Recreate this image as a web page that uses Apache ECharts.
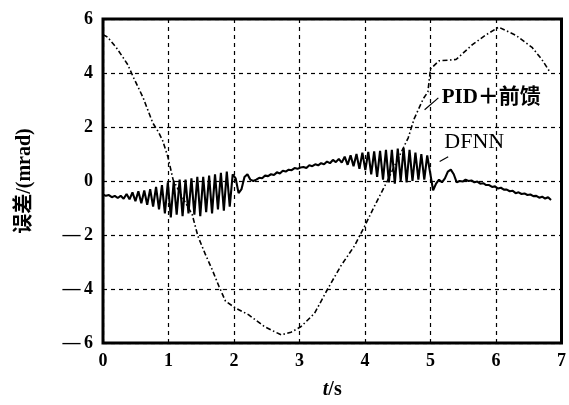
<!DOCTYPE html>
<html><head><meta charset="utf-8">
<script src="https://cdn.jsdelivr.net/npm/echarts@6/dist/echarts.min.js"></script>
<style>html,body{margin:0;padding:0;background:#fff}#c{width:569px;height:405px}</style>
</head><body><div id="c"></div>
<script>
// ---- data ----
const xTicks = [0, 1, 2, 3, 4, 5, 6, 7];
const yTicks = [-6, -4, -2, 0, 2, 4, 6];
const seriesNames = ['PID＋前馈', 'DFNN'];
// DFNN error, sampled every dfnnStep seconds starting at dfnnStart
const dfnnStart = 0, dfnnStep = 0.045;
const dfnnValues = [
 -0.50,-0.55,-0.52,-0.60,-0.55,-0.63,-0.55,-0.66,-0.48,-0.68,
 -0.42,-0.75,-0.38,-0.82,-0.35,-0.88,-0.30,-0.95,-0.22,-1.05,
 -0.15,-1.20,-0.05,-1.35, 0.00,-1.25, 0.05,-1.30, 0.05,-1.20,
  0.10,-1.25, 0.15,-1.30, 0.15,-1.15, 0.20,-1.20, 0.25,-1.05,
  0.30,-1.10, 0.35,-0.95, 0.25, 0.10,-0.45,-0.30, 0.15, 0.25,
  0.05, 0.00, 0.05, 0.12, 0.10, 0.20, 0.18, 0.25, 0.22, 0.32,
  0.28, 0.38, 0.35, 0.42, 0.40, 0.48, 0.45, 0.50, 0.52, 0.48,
  0.58, 0.55, 0.62, 0.58, 0.66, 0.62, 0.72, 0.66, 0.78, 0.70,
  0.82, 0.68, 0.90, 0.60, 0.95, 0.55, 1.00, 0.45, 1.05, 0.40,
  1.08, 0.25, 1.10, 0.15, 1.12, 0.05, 1.15,-0.05, 1.15,-0.10,
  1.20, 0.00, 1.22,-0.05, 1.15, 0.00, 1.05, 0.05, 1.00, 0.05,
  0.95, 0.30,-0.35,-0.10, 0.05,-0.05, 0.10, 0.35, 0.42, 0.25,
 -0.05, 0.00,-0.02, 0.05, 0.00, 0.02,-0.05,-0.02,-0.10,-0.08,
 -0.15,-0.15,-0.22,-0.20,-0.28,-0.25,-0.32,-0.32,-0.38,-0.36,
 -0.45,-0.42,-0.48,-0.46,-0.52,-0.50,-0.56,-0.55,-0.62,-0.58,
 -0.65,-0.60,-0.70
];
// PID + feedforward error
const pidTimes = [0,0.07,0.2,0.31,0.38,0.46,0.61,0.76,0.85,0.91,0.99,1.07,1.2,1.36,1.45,1.56,1.67,1.77,1.87,2.02,2.22,2.47,2.72,2.87,3.02,3.23,3.43,3.63,3.84,3.99,4.14,4.34,4.5,4.66,4.75,4.89,4.96,5.0,5.13,5.39,5.64,5.84,6.04,6.3,6.55,6.7,6.82];
const pidValues = [5.42,5.33,4.95,4.56,4.3,3.86,3.1,2.15,1.8,1.5,0.9,0.05,-0.55,-1.23,-2.05,-2.7,-3.3,-3.9,-4.45,-4.7,-4.95,-5.4,-5.7,-5.6,-5.4,-4.9,-4.0,-3.15,-2.4,-1.7,-0.95,0.0,0.8,1.6,2.3,3.05,3.3,4.15,4.45,4.5,5.05,5.4,5.7,5.4,4.95,4.5,4.05];

// ---- build ----
const dfnnData = dfnnValues.map((v, i) => [dfnnStart + i * dfnnStep, v]);
const pidData = pidTimes.map((t, i) => [t, pidValues[i]]);

const chart = echarts.init(document.getElementById('c'), null, {renderer: 'canvas'});
const serif = '"Liberation Serif","DejaVu Serif","Noto Sans CJK SC",serif';
const gridLine = {show: true, lineStyle: {color: '#000', width: 1.2, type: [4, 4]}};

chart.setOption({
  animation: false,
  backgroundColor: '#fff',
  grid: {left: 103, right: 2, top: 19, bottom: 61, show: true, borderColor: '#000', borderWidth: 3},
  xAxis: {
    type: 'value', min: xTicks[0], max: xTicks[xTicks.length - 1], interval: 1,
    axisLine: {show: false}, axisTick: {show: false},
    splitLine: gridLine,
    axisLabel: {color: '#000', fontFamily: serif, fontSize: 18, fontWeight: 'bold', margin: 9},
    name: '{i|t}{n|/s}', nameLocation: 'middle', nameGap: 37,
    nameTextStyle: {rich: {
      i: {fontFamily: serif, fontStyle: 'italic', fontWeight: 'bold', fontSize: 20, color: '#000'},
      n: {fontFamily: serif, fontWeight: 'bold', fontSize: 20, color: '#000'}
    }}
  },
  yAxis: {
    type: 'value', min: yTicks[0], max: yTicks[yTicks.length - 1], interval: 2,
    axisLine: {show: false}, axisTick: {show: false},
    splitLine: gridLine,
    axisLabel: {color: '#000', fontFamily: serif, fontSize: 18, fontWeight: 'bold', margin: 10,
      formatter: v => v < 0 ? '—\u2009' + (-v) : String(v)},
    name: '误差/(mrad)', nameLocation: 'middle', nameRotate: 90, nameGap: 68,
    nameTextStyle: {fontFamily: serif, fontWeight: 'bold', fontSize: 20, color: '#000'}
  },
  series: [
    {name: seriesNames[0], type: 'line', data: pidData, showSymbol: false, smooth: false,
     lineStyle: {color: '#000', width: 1.6, type: [5, 2.5, 1.5, 2.5]}},
    {name: seriesNames[1], type: 'line', data: dfnnData, showSymbol: false, smooth: false,
     lineStyle: {color: '#000', width: 2.1}}
  ]
});

function px(p) { return chart.convertToPixel({gridIndex: 0}, p); }
const pidLab = px([5.17, 3.08]), pidA = px([4.91, 2.64]), pidB = px([5.12, 3.08]);
const dfLab = px([5.21, 1.42]), dfA = px([5.14, 0.72]), dfB = px([5.27, 0.9]);
chart.setOption({
  graphic: [
    {type: 'text', x: pidLab[0], y: pidLab[1], style: {text: seriesNames[0], fill: '#000',
      font: 'bold 21px ' + serif, verticalAlign: 'middle', align: 'left'}},
    {type: 'text', x: dfLab[0], y: dfLab[1], style: {text: seriesNames[1], fill: '#000',
      font: '22px ' + serif, verticalAlign: 'middle', align: 'left'}},
    {type: 'line', shape: {x1: pidA[0], y1: pidA[1], x2: pidB[0], y2: pidB[1]}, style: {stroke: '#000', lineWidth: 1.2}},
    {type: 'line', shape: {x1: dfA[0], y1: dfA[1], x2: dfB[0], y2: dfB[1]}, style: {stroke: '#000', lineWidth: 1.2}}
  ]
});
</script></body></html>
